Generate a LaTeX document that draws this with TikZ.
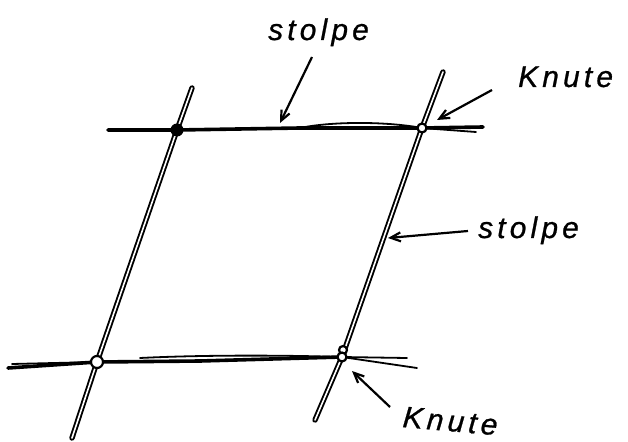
\documentclass[tikz,border=0pt]{standalone}
\usepackage{fontspec}
\newfontfamily\hand[LetterSpace=14,FakeBold=0.8]{Liberation Sans}
\usetikzlibrary{arrows.meta}
\tikzset{
  post/.style={draw=black, line width=1.9bp, double=white, double distance=1.6bp, line cap=round},
  rope/.style={draw=black, line width=3.6bp, line cap=round},
  thinrope/.style={draw=black, line width=1.8bp, line cap=round},
  lbl/.style={font=\hand\itshape\fontsize{30}{30}\selectfont, inner sep=0pt, anchor=base west},
  pointer/.style={draw=black, line width=2.2bp, -{Straight Barb[length=10bp,width=9bp,line width=2.2bp]}},
  knotfill/.style={circle, fill=black, minimum size=13bp, inner sep=0pt},
  knotopen/.style={circle, draw=black, fill=white, line width=2.2bp, minimum size=9bp, inner sep=0pt}
}
\begin{document}
\begin{tikzpicture}[x=1bp,y=-1bp]
\useasboundingbox (0,0) rectangle (628,442);
% knots
\coordinate (k1) at (177,130);
\coordinate (k2) at (422,128);
\coordinate (k3) at (97,362);
\coordinate (k4) at (342,357);
% free ends
\coordinate (p1t) at (192,88);
\coordinate (p1b) at (72,438);
\coordinate (p2t) at (443,72);
\coordinate (p2b) at (315,420);
\coordinate (h1l) at (108,130);
\coordinate (h1r) at (483,127);
\coordinate (h1r2) at (476,132);
\coordinate (h2l) at (8,368);
\coordinate (h2r) at (407,358);
\coordinate (h2r2) at (417,368);
% posts
\path[post] (p1t) -- (k1) -- (k3) -- (p1b);
\path[post] (p2t) -- (k2) -- (k4) -- (p2b);
% horizontal ropes
\path[rope] (h1l) -- (k1) -- (300,128) -- (k2) -- (h1r);
\path[thinrope] (305,127) .. controls (340,121) and (390,122) .. (k2);
\path[thinrope] (k2) -- (h1r2);
\path[rope] (h2l) -- (k3) -- (200,361) -- (k4);
\path[thinrope] (12,364) -- (k3);
\path[thinrope] (140,358) .. controls (200,355) and (280,355) .. (k4);
\path[thinrope] (k4) -- (h2r);
\path[thinrope] (k4) -- (h2r2);
% knots
\node[knotfill] (n1) at (k1) {};
\node[knotopen, minimum size=9bp] (n2) at (k2) {};
\node[knotopen, minimum size=12bp] (n3) at (k3) {};
\node[knotopen, minimum size=8bp] (n4b) at (343,350) {};
\node[knotopen, minimum size=9bp] (n4) at (k4) {};
% labels
\node[lbl] (l1) at (268,40) {stolpe};
\node[lbl] (l2) at (518,87) {Knute};
\node[lbl] (l3) at (478,238) {stolpe};
\node[lbl, rotate=-5] (l4) at (402,427) {Knute};
% pointers
\coordinate (a1) at (312,57);
\coordinate (a2) at (492,90);
\coordinate (a3) at (468,231);
\coordinate (a4) at (390,407);
\draw[pointer] (a1) -- (280,123);
\draw[pointer] (a2) -- (437,120);
\draw[pointer] (a3) -- (388,238);
\draw[pointer] (a4) -- (352,371);
\end{tikzpicture}
\end{document}
